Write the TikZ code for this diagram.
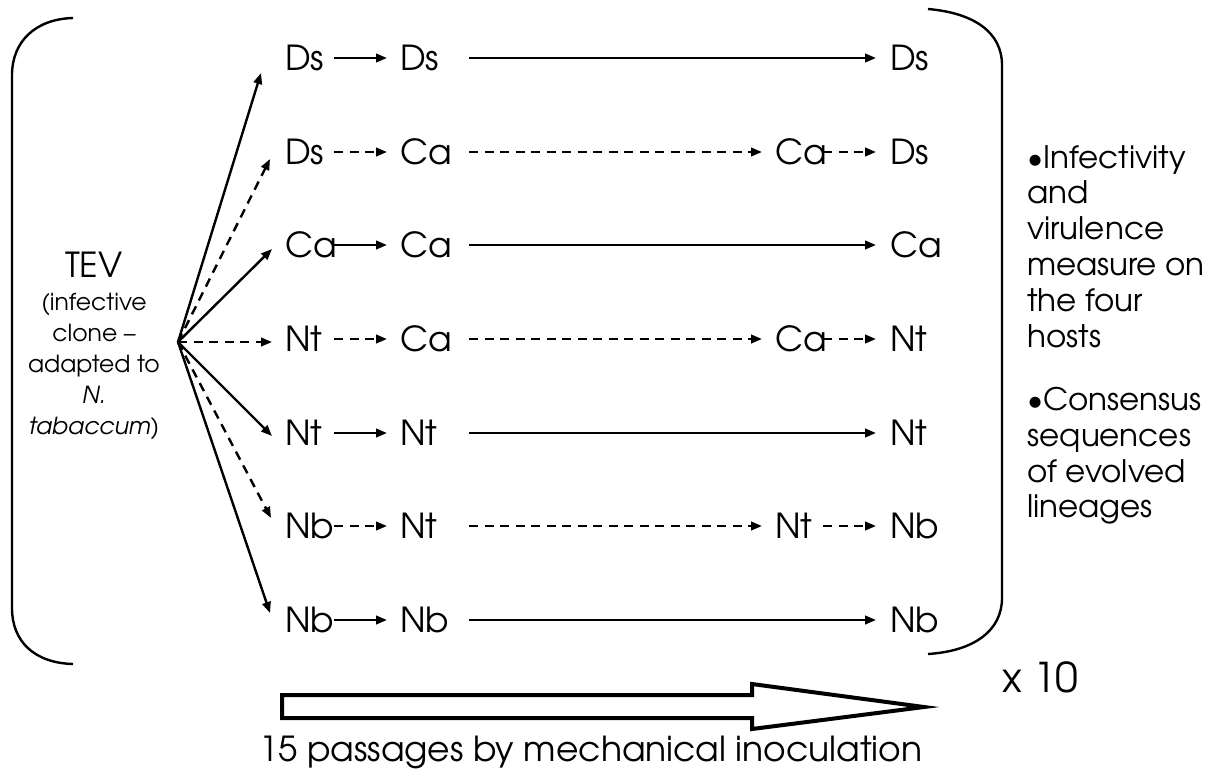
\documentclass[tikz,border=0pt]{standalone}
\usepackage{fontspec}
\setmainfont{TeX Gyre Adventor}
\usetikzlibrary{arrows.meta}
\begin{document}
\begin{tikzpicture}[x=1pt,y=-1pt,
  lab/.style={anchor=west,inner sep=0pt,font=\fontsize{34.5}{38}\selectfont},
  arr/.style={line width=2.4pt,-{Triangle[length=11pt,width=8.5pt]}},
  dsh/.style={arr,dash pattern=on 9pt off 6.5pt},
  brk/.style={line width=2.4pt}]
\useasboundingbox (0,0) rectangle (1217,780);
% rows
\foreach \r/\y/\a/\b/\c/\d in {1/58/Ds/Ds//Ds,2/152/Ds/Ca/Ca/Ds,3/245/Ca/Ca//Ca,4/339/Nt/Ca/Ca/Nt,5/433/Nt/Nt//Nt,6/526/Nb/Nt/Nt/Nb,7/620/Nb/Nb//Nb}{
  \node[lab] (r\r a) at (285,\y) {\a};
  \node[lab] (r\r b) at (400,\y) {\b};
  \node[lab] (r\r c) at (775,\y) {\c};
  \node[lab] (r\r d) at (890,\y) {\d};
}
% solid rows
\foreach \r in {1,3,5,7}{
  \draw[arr] ([xshift=49pt]r\r a.west) -- ([xshift=-13pt]r\r b.west);
  \draw[arr] ([xshift=69pt]r\r b.west) -- ([xshift=-14pt]r\r d.west);
}
% dashed rows
\foreach \r in {2,4,6}{
  \draw[dsh] ([xshift=49pt]r\r a.west) -- ([xshift=-13pt]r\r b.west);
  \draw[dsh] ([xshift=69pt]r\r b.west) -- ([xshift=-13pt]r\r c.west);
  \draw[dsh] ([xshift=48pt]r\r c.west) -- ([xshift=-14pt]r\r d.west);
}
% TEV
\node[inner sep=0pt,font=\fontsize{34.5}{38}\selectfont] (tev) at (94,265) {TEV};
\node[inner sep=0pt,align=center,font=\fontsize{23.5}{31}\selectfont,anchor=north] (tevsub) at (94,293)
  {(infective\\clone –\\adapted to\\\textit{N.}\\\textit{tabaccum})};
\coordinate (src) at (178,342);
\coordinate (f1) at (261,73);
\coordinate (f2) at (270,159);
\coordinate (f3) at (272,249);
\coordinate (f4) at (272,342);
\coordinate (f5) at (272,436);
\coordinate (f6) at (271,518);
\coordinate (f7) at (270,613);
\draw[arr] (src) -- (f1);
\draw[dsh] (src) -- (f2);
\draw[arr] (src) -- (f3);
\draw[dsh] (src) -- (f4);
\draw[arr] (src) -- (f5);
\draw[dsh] (src) -- (f6);
\draw[arr] (src) -- (f7);
% brackets
\draw[brk] (73,18) .. controls (35,19) and (12,42) .. (12,75) -- (12,608) .. controls (12,642) and (35,663) .. (73,664);
\draw[brk] (928,9) .. controls (975,13) and (1002,33) .. (1002,65) -- (1002,598) .. controls (1002,630) and (975,651) .. (928,654);
% right notes
\node[inner sep=0pt,anchor=north west,align=left,font=\fontsize{31}{35.8}\selectfont] (n1) at (1027,145)
  {•Infectivity\\and\\virulence\\measure on\\the four\\hosts};
\node[inner sep=0pt,anchor=north west,align=left,font=\fontsize{31}{35.8}\selectfont] (n2) at (1027,387)
  {•Consensus\\sequences\\of evolved\\lineages};
\node[inner sep=0pt,anchor=west,font=\fontsize{41}{44}\selectfont] (x10) at (1002,677) {x 10};
% block arrow
\draw[line width=4pt,line join=miter] (282,695) -- (752,695) -- (752,684) -- (924,707) -- (752,729) -- (752,718) -- (282,718) -- cycle;
\node[inner sep=0pt,font=\fontsize{34.5}{38}\selectfont] (pass) at (591,752) {15 passages by mechanical inoculation};
\end{tikzpicture}
\end{document}
